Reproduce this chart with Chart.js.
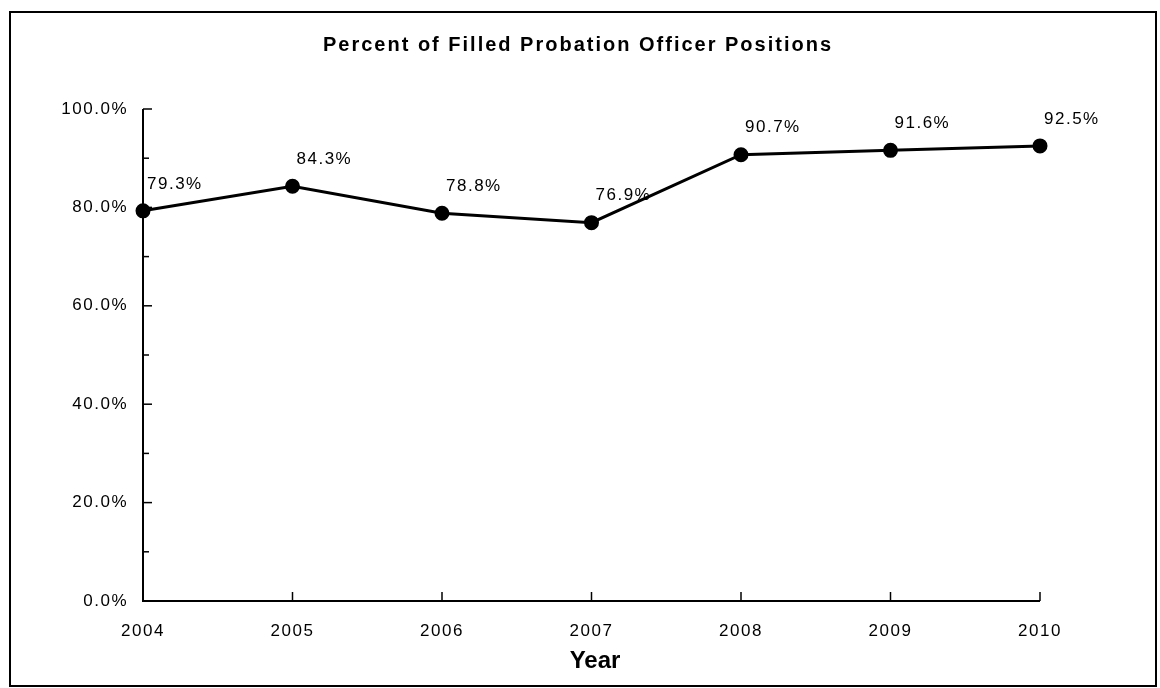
<!DOCTYPE html>
<html>
<head>
<meta charset="utf-8">
<script src="https://cdn.jsdelivr.net/npm/chart.js@4/dist/chart.umd.min.js"></script>
<style>
  html, body { margin: 0; padding: 0; background: #fff; }
  #wrap { position: relative; width: 1160px; height: 688px; }
  canvas { display: block; }
</style>
</head>
<body>
<div id="wrap"><canvas id="c" width="1160" height="688"></canvas></div>
<script>
const years = ['2004', '2005', '2006', '2007', '2008', '2009', '2010'];
const filledPct = [79.3, 84.3, 78.8, 76.9, 90.7, 91.6, 92.5];
const chartTitle = 'Percent of Filled Probation Officer Positions';
const xAxisTitle = 'Year';

const FONT = '"Liberation Sans", Arial, sans-serif';
const SPACING = '1.5px';

const spacingPlugin = {
  id: 'spacing',
  beforeInit(chart) { chart.ctx.letterSpacing = SPACING; },
  beforeUpdate(chart) { chart.ctx.letterSpacing = SPACING; },
  beforeDraw(chart) { chart.ctx.letterSpacing = SPACING; }
};

const decor = {
  id: 'decor',
  afterDraw(chart) {
    const ctx = chart.ctx;
    const xs = chart.scales.x, ys = chart.scales.y;
    const area = chart.chartArea;
    ctx.save();
    // outer frame
    ctx.strokeStyle = '#000';
    ctx.lineWidth = 2;
    ctx.strokeRect(10, 12, 1146, 674);
    // axis lines
    ctx.lineWidth = 2;
    ctx.beginPath();
    ctx.moveTo(area.left, area.top);
    ctx.lineTo(area.left, area.bottom);
    ctx.lineTo(area.right, area.bottom);
    ctx.stroke();
    // y ticks inward
    ctx.lineWidth = 1.5;
    ys.ticks.forEach(t => {
      const y = ys.getPixelForValue(t.value);
      const len = (Math.round(t.value) % 20 === 0) ? 9 : 6;
      ctx.beginPath();
      ctx.moveTo(area.left, y);
      ctx.lineTo(area.left + len, y);
      ctx.stroke();
    });
    // x ticks upward
    years.forEach((_, i) => {
      const x = xs.getPixelForValue(i);
      ctx.beginPath();
      ctx.moveTo(x, area.bottom);
      ctx.lineTo(x, area.bottom - 9);
      ctx.stroke();
    });
    // data labels
    const meta = chart.getDatasetMeta(0);
    ctx.fillStyle = '#000';
    ctx.font = '17px ' + FONT;
    ctx.letterSpacing = SPACING;
    ctx.textAlign = 'left';
    ctx.textBaseline = 'middle';
    meta.data.forEach((pt, i) => {
      ctx.fillText(filledPct[i].toFixed(1) + '%', pt.x + 4, pt.y - 27);
    });
    // title
    ctx.font = 'bold 20px ' + FONT;
    ctx.textAlign = 'left';
    ctx.letterSpacing = '2px';
    const tw = ctx.measureText(chartTitle).width - 2;
    ctx.fillText(chartTitle, 577 - tw / 2, 45);
    // x axis title
    ctx.font = 'bold 24px ' + FONT;
    ctx.letterSpacing = '0px';
    ctx.textAlign = 'center';
    ctx.fillText(xAxisTitle, 595, 661);
    ctx.restore();
  }
};

new Chart(document.getElementById('c'), {
  type: 'line',
  data: {
    labels: years,
    datasets: [{
      data: filledPct,
      borderColor: '#000',
      backgroundColor: '#000',
      borderWidth: 3,
      pointRadius: 6,
      pointBackgroundColor: '#000',
      pointBorderColor: '#000',
      tension: 0
    }]
  },
  plugins: [spacingPlugin, decor],
  options: {
    responsive: false,
    animation: false,
    layout: { padding: { top: 109, right: 120, left: 0, bottom: 0 } },
    plugins: { legend: { display: false }, title: { display: false }, tooltip: { enabled: false } },
    scales: {
      x: {
        type: 'category',
        offset: false,
        border: { display: false },
        grid: { display: false, drawTicks: false },
        ticks: { color: '#000', font: { family: FONT, size: 17 }, padding: 20, maxRotation: 0, autoSkip: false },
        afterFit(s) { s.height = 87; }
      },
      y: {
        min: 0, max: 100,
        border: { display: false },
        grid: { display: false, drawTicks: false },
        ticks: {
          stepSize: 10,
          color: '#000',
          font: { family: FONT, size: 17 },
          padding: 15,
          callback: v => (Math.round(v) % 20 === 0) ? v.toFixed(1) + '%' : ''
        },
        afterFit(s) { s.width = 143; }
      }
    }
  }
});
</script>
</body>
</html>
